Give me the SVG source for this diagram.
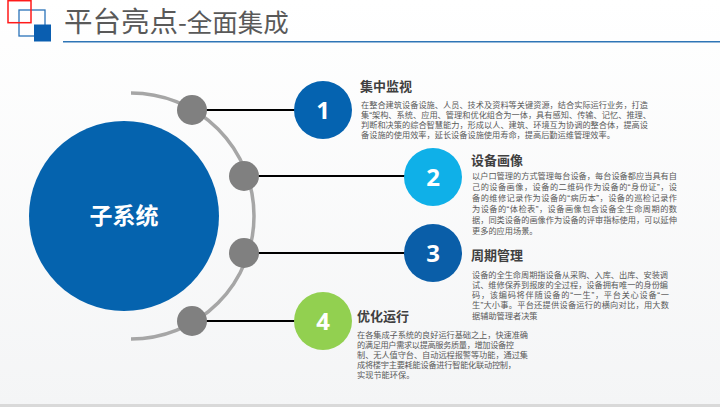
<svg xmlns="http://www.w3.org/2000/svg" width="720" height="407" viewBox="0 0 720 407">
<defs>
<linearGradient id="bg" x1="0" y1="0" x2="0" y2="1">
<stop offset="0" stop-color="#ffffff"/>
<stop offset="1" stop-color="#f4f5f6"/>
</linearGradient>
<style>
.cjk{font-family:"Noto Sans CJK SC","Noto Sans",sans-serif}
.ttl{font-size:13px;font-weight:bold;fill:#404040}
.body{font-family:"Liberation Sans","Noto Sans CJK SC",sans-serif;font-size:8.2px;fill:#595959}
.num{font-family:"Open Sans","Liberation Sans",sans-serif;font-size:24px;font-weight:bold;fill:#ffffff;text-anchor:middle}
.dot{fill:#808080}
.link{stroke:#000000;stroke-width:2;fill:none}
</style>
</defs>
<rect x="0" y="0" width="720" height="407" fill="url(#bg)"/>
<rect x="0" y="404" width="720" height="3" fill="#d9d9d9"/>
<g id="header">
<rect x="19" y="10" width="26" height="26" fill="none" stroke="#2a72b8" stroke-width="1.3"/>
<rect x="8" y="0.7" width="23" height="22" fill="none" stroke="#ff1a1a" stroke-width="1.5"/>
<rect x="34" y="24.5" width="17" height="17" fill="#0a5eb0"/>
<text class="cjk" x="64" y="32" font-size="28.5" fill="#595959">平台亮点<tspan font-size="25.5">-全面集成</tspan></text>
<line x1="63" y1="41.7" x2="720" y2="41.7" stroke="#2e75b6" stroke-width="1.5"/>
</g>
<g id="hub">
<circle cx="124" cy="216" r="95" fill="#0563ae"/>
<text class="cjk" x="124" y="224" font-size="23" font-weight="bold" fill="#ffffff" text-anchor="middle">子系统</text>
</g>
<g id="connectors">
<path d="M131,93 A123,123 0 0 1 131,339" fill="none" stroke="#a6a6a6" stroke-width="3.5"/>
<line class="link" x1="192" y1="110" x2="296" y2="110"/>
<line class="link" x1="244" y1="176" x2="406" y2="176"/>
<line class="link" x1="244" y1="253" x2="406" y2="253"/>
<line class="link" x1="192" y1="321" x2="296" y2="321"/>
<circle class="dot" cx="192" cy="110" r="15"/>
<circle class="dot" cx="244" cy="176" r="15"/>
<circle class="dot" cx="244" cy="253" r="15"/>
<circle class="dot" cx="192" cy="321" r="15"/>
</g>
<g id="item1">
<circle cx="323" cy="110" r="29" fill="#0563b0"/>
<text class="num" x="323" y="118.5">1</text>
<text class="cjk ttl" x="360" y="91">集中监视</text>
<text class="body" x="361" y="107.5"><tspan x="361" textLength="287" lengthAdjust="spacing">在整合建筑设备设施、人员、技术及资料等关键资源，结合实际运行业务，打造</tspan><tspan x="361" dy="10.2" textLength="290" lengthAdjust="spacing">集“架构、系统、应用、管理和优化组合为一体，具有感知、传输、记忆、推理、</tspan><tspan x="361" dy="10.2" textLength="287" lengthAdjust="spacing">判断和决策的综合智慧能力，形成以人、建筑、环境互为协调的整合体，提高设</tspan><tspan x="361" dy="10.3">备设施的使用效率，延长设备设施使用寿命，提高后勤运维管理效率。</tspan></text>
</g>
<g id="item2">
<circle cx="433" cy="177" r="29" fill="#0fb0e8"/>
<text class="num" x="433" y="185.5">2</text>
<text class="cjk ttl" x="471" y="164.5">设备画像</text>
<text class="body" x="472" y="179"><tspan x="472" textLength="205" lengthAdjust="spacing">以户口管理的方式管理每台设备，每台设备都应当具有自</tspan><tspan x="472" dy="10.95" textLength="205" lengthAdjust="spacing">己的设备画像，设备的二维码作为设备的“身份证”，设</tspan><tspan x="472" dy="10.95" textLength="205" lengthAdjust="spacing">备的维修记录作为设备的“病历本”，设备的巡检记录作</tspan><tspan x="472" dy="10.95" textLength="205" lengthAdjust="spacing">为设备的“体检表”，设备画像包含设备全生命周期的数</tspan><tspan x="472" dy="10.95" textLength="205" lengthAdjust="spacing">据，同类设备的画像作为设备的评审指标使用，可以延伸</tspan><tspan x="472" dy="10.95">更多的应用场景。</tspan></text>
</g>
<g id="item3">
<circle cx="433" cy="253" r="29" fill="#0a5ea8"/>
<text class="num" x="433" y="261.5">3</text>
<text class="cjk ttl" x="471" y="260">周期管理</text>
<text class="body" x="472" y="277.5"><tspan x="472" textLength="196" lengthAdjust="spacing">设备的全生命周期指设备从采购、入库、出库、安装调</tspan><tspan x="472" dy="10.3" textLength="196" lengthAdjust="spacing">试、维修保养到报废的全过程，设备拥有唯一的身份编</tspan><tspan x="472" dy="10.3" textLength="197" lengthAdjust="spacing">码，该编码将伴随设备的“一生”，平台关心设备“一</tspan><tspan x="472" dy="10.3" textLength="197" lengthAdjust="spacing">生”大小事。平台还提供设备运行的横向对比，用大数</tspan><tspan x="472" dy="10.3">据辅助管理者决策</tspan></text>
</g>
<g id="item4">
<circle cx="323" cy="321" r="29" fill="#92d050"/>
<text class="num" x="323" y="329.5">4</text>
<text class="cjk ttl" x="357" y="321">优化运行</text>
<text class="body" x="357" y="337.5"><tspan x="357" textLength="171" lengthAdjust="spacing">在各集成子系统的良好运行基础之上，快速准确</tspan><tspan x="357" dy="10" textLength="157" lengthAdjust="spacing">的满足用户需求以提高服务质量，增加设备控</tspan><tspan x="357" dy="10" textLength="171" lengthAdjust="spacing">制、无人值守台、自动远程报警等功能，通过集</tspan><tspan x="357" dy="10" textLength="159" lengthAdjust="spacing">成将楼宇主要耗能设备进行智能化联动控制，</tspan><tspan x="357" dy="10">实现节能环保。</tspan></text>
</g>
</svg>
